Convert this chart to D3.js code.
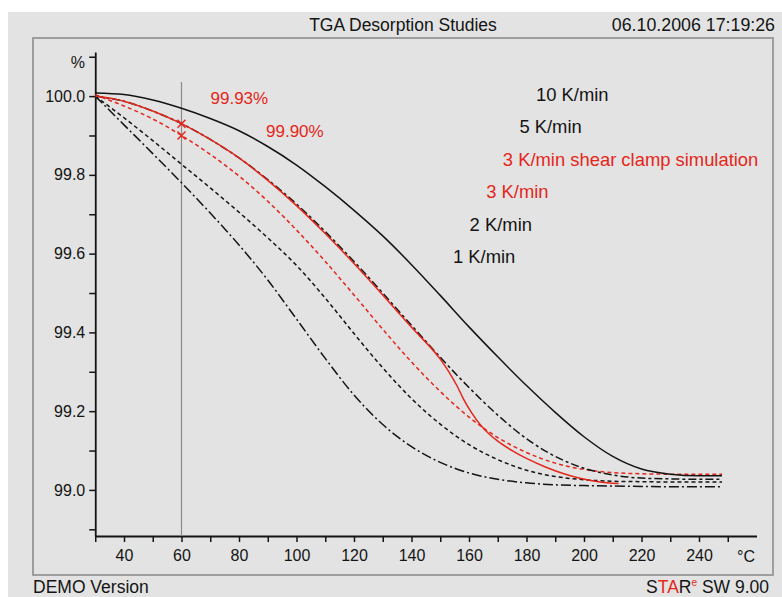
<!DOCTYPE html>
<html>
<head>
<meta charset="utf-8">
<script src="https://cdn.jsdelivr.net/npm/d3@7"></script>
<style>
  body { margin: 0; background: #fff; }
  svg { display: block; }
  text { font-family: "Liberation Sans", Arial, Helvetica, sans-serif; }
</style>
</head>
<body>
<svg id="chart" width="782" height="597"></svg>
<script>
// Sample temperatures (°C) shared by the heating-rate series
const temperature = [30, 40, 50, 60, 70, 80, 90, 100, 110, 120, 130, 140, 150, 160, 170, 180, 190, 200, 210, 220, 230, 240, 248];

// Residual mass (%) for each heating rate
const rate10 = [100.008, 100.004, 99.99, 99.969, 99.943, 99.912, 99.872, 99.825, 99.77, 99.71, 99.645, 99.572, 99.494, 99.414, 99.338, 99.265, 99.197, 99.135, 99.085, 99.053, 99.04, 99.036, 99.036];
const rate5  = [100.0, 99.987, 99.962, 99.93, 99.89, 99.843, 99.788, 99.726, 99.656, 99.58, 99.50, 99.418, 99.337, 99.26, 99.19, 99.13, 99.085, 99.055, 99.038, 99.03, 99.028, 99.027, 99.027];
const rate3  = [100.003, 99.975, 99.942, 99.90, 99.852, 99.797, 99.733, 99.66, 99.58, 99.495, 99.408, 99.325, 99.25, 99.185, 99.133, 99.095, 99.068, 99.052, 99.044, 99.041, 99.04, 99.04, 99.04];
const rate2  = [100.0, 99.945, 99.887, 99.827, 99.767, 99.705, 99.64, 99.57, 99.487, 99.397, 99.31, 99.232, 99.167, 99.115, 99.077, 99.05, 99.034, 99.026, 99.022, 99.021, 99.02, 99.02, 99.02];
const rate1  = [100.0, 99.927, 99.854, 99.78, 99.703, 99.622, 99.533, 99.434, 99.334, 99.241, 99.166, 99.11, 99.07, 99.043, 99.027, 99.018, 99.013, 99.011, 99.01, 99.009, 99.008, 99.008, 99.008];

// Shear clamp simulation at 3 K/min, sampled more densely around its step
const shearTemperature = [30, 40, 50, 60, 70, 80, 90, 100, 110, 120, 130, 140, 150, 153, 156, 158, 161, 164, 167, 170, 175, 180, 187, 193, 199, 205, 212];
const shear3 = [100.0, 99.987, 99.962, 99.93, 99.89, 99.843, 99.786, 99.722, 99.651, 99.575, 99.495, 99.413, 99.332, 99.30, 99.262, 99.232, 99.195, 99.165, 99.142, 99.124, 99.10, 99.08, 99.057, 99.041, 99.029, 99.021, 99.016];

// Legend labels, top to bottom
const seriesLabels = ["10 K/min", "5 K/min", "3 K/min shear clamp simulation", "3 K/min", "2 K/min", "1 K/min"];

// Cursor evaluation at 60 °C
const cursorTemperature = 60;
const cursorValues = [99.93, 99.90];

// Axis ticks
const xTicks = d3.range(30, 251, 10);
const xLabels = [40, 60, 80, 100, 120, 140, 160, 180, 200, 220, 240];
const yTicks = d3.range(989, 1002).map(d => d / 10);
const yLabels = [99.0, 99.2, 99.4, 99.6, 99.8, 100.0];

const RED = "#e5261b";
const INK = "#141414";

const svg = d3.select("#chart");

// page background and instrument panel
svg.append("rect").attr("width", 782).attr("height", 597).attr("fill", "#fff");
svg.append("rect").attr("x", 8).attr("y", 12).attr("width", 774).attr("height", 585).attr("fill", "#e2e3e2");
svg.append("rect").attr("x", 33).attr("y", 38).attr("width", 740).attr("height", 537)
  .attr("fill", "none").attr("stroke", "#8c8c8c").attr("stroke-width", 1.6);

// header and footer
svg.append("text").attr("x", 403).attr("y", 31).attr("text-anchor", "middle")
  .attr("font-size", 17.5).attr("fill", INK).text("TGA Desorption Studies");
svg.append("text").attr("x", 775).attr("y", 31).attr("text-anchor", "end")
  .attr("font-size", 17.8).attr("fill", INK).text("06.10.2006 17:19:26");
svg.append("text").attr("x", 33).attr("y", 593)
  .attr("font-size", 17.5).attr("fill", INK).text("DEMO Version");
const star = svg.append("text").attr("x", 769).attr("y", 593).attr("text-anchor", "end")
  .attr("font-size", 17.5).attr("fill", INK);
star.append("tspan").text("S");
star.append("tspan").attr("fill", RED).text("TA");
star.append("tspan").text("R");
star.append("tspan").attr("fill", RED).attr("font-size", 10).attr("dy", -7).text("e");
star.append("tspan").attr("dy", 7).text(" SW 9.00");

// scales
const x = d3.scaleLinear().domain([30, 260]).range([95.25, 756.5]);
const y = d3.scaleLinear().domain([98.883, 100.112]).range([536, 52]);

// axes
const fmtY = d3.format(".1f");
const yAxis = d3.axisLeft(y).tickValues(yTicks).tickSize(6).tickSizeOuter(0).tickPadding(4)
  .tickFormat(d => yLabels.some(v => Math.abs(v - d) < 1e-6) ? fmtY(d) : "");
const xAxis = d3.axisBottom(x).tickValues(xTicks).tickSize(6).tickSizeOuter(0).tickPadding(8)
  .tickFormat(d => xLabels.includes(d) ? d : "");

function styleAxis(g) {
  g.select(".domain").attr("stroke", INK).attr("stroke-width", 1.8);
  g.selectAll(".tick line").attr("stroke", INK).attr("stroke-width", 1.5);
  g.selectAll(".tick text").attr("fill", INK).attr("font-size", 16)
    .attr("font-family", "'Liberation Sans', Arial, sans-serif");
}
svg.append("g").attr("transform", `translate(${x(30)},0)`).call(yAxis).call(styleAxis);
svg.append("g").attr("transform", `translate(0,${y(98.883)})`).call(xAxis).call(styleAxis);

svg.append("text").attr("x", 85).attr("y", 68).attr("text-anchor", "end")
  .attr("font-size", 16).attr("fill", INK).text("%");
svg.append("text").attr("x", 755).attr("y", 562).attr("text-anchor", "end")
  .attr("font-size", 16).attr("fill", INK).text("°C");

// cursor line
svg.append("line")
  .attr("x1", x(cursorTemperature)).attr("x2", x(cursorTemperature))
  .attr("y1", 82).attr("y2", y(98.883))
  .attr("stroke", "#8a8a8a").attr("stroke-width", 1.2);

// curves
const line = d3.line().x(d => x(d[0])).y(d => y(d[1])).curve(d3.curveMonotoneX);
const pair = (ts, vs) => ts.map((t, i) => [t, vs[i]]);

const curves = [
  { values: pair(temperature, rate1),  color: INK, dash: "10,3,2,3" },
  { values: pair(temperature, rate2),  color: INK, dash: "4,3" },
  { values: pair(temperature, rate3),  color: RED, dash: "4,3" },
  { values: pair(temperature, rate5),  color: INK, dash: "8,3,3,3" },
  { values: pair(shearTemperature, shear3), color: RED, dash: null },
  { values: pair(temperature, rate10), color: INK, dash: null }
];

svg.append("g").selectAll("path").data(curves).join("path")
  .attr("d", d => line(d.values))
  .attr("fill", "none")
  .attr("stroke", d => d.color)
  .attr("stroke-width", 1.5)
  .attr("stroke-dasharray", d => d.dash);

// cursor markers and their readings
const fmtP = d3.format(".2f");
svg.append("g").selectAll("path").data(cursorValues).join("path")
  .attr("transform", v => `translate(${x(cursorTemperature)},${y(v)})`)
  .attr("d", "M-4,-4L4,4M-4,4L4,-4")
  .attr("stroke", RED).attr("stroke-width", 1.5).attr("fill", "none");
svg.append("g").selectAll("text").data(cursorValues).join("text")
  .attr("x", (v, i) => 210.5 + i * 55.5)
  .attr("y", (v, i) => 104 + i * 32.5)
  .attr("font-size", 17).attr("fill", RED)
  .text(v => fmtP(v) + "%");

// legend staircase
const legendColors = [INK, INK, RED, RED, INK, INK];
svg.append("g").selectAll("text").data(seriesLabels).join("text")
  .attr("x", (d, i) => 536 - i * 16.6)
  .attr("y", (d, i) => 101 + i * 32.4)
  .attr("font-size", 18.4)
  .attr("fill", (d, i) => legendColors[i])
  .text(d => d);
</script>
</body>
</html>
